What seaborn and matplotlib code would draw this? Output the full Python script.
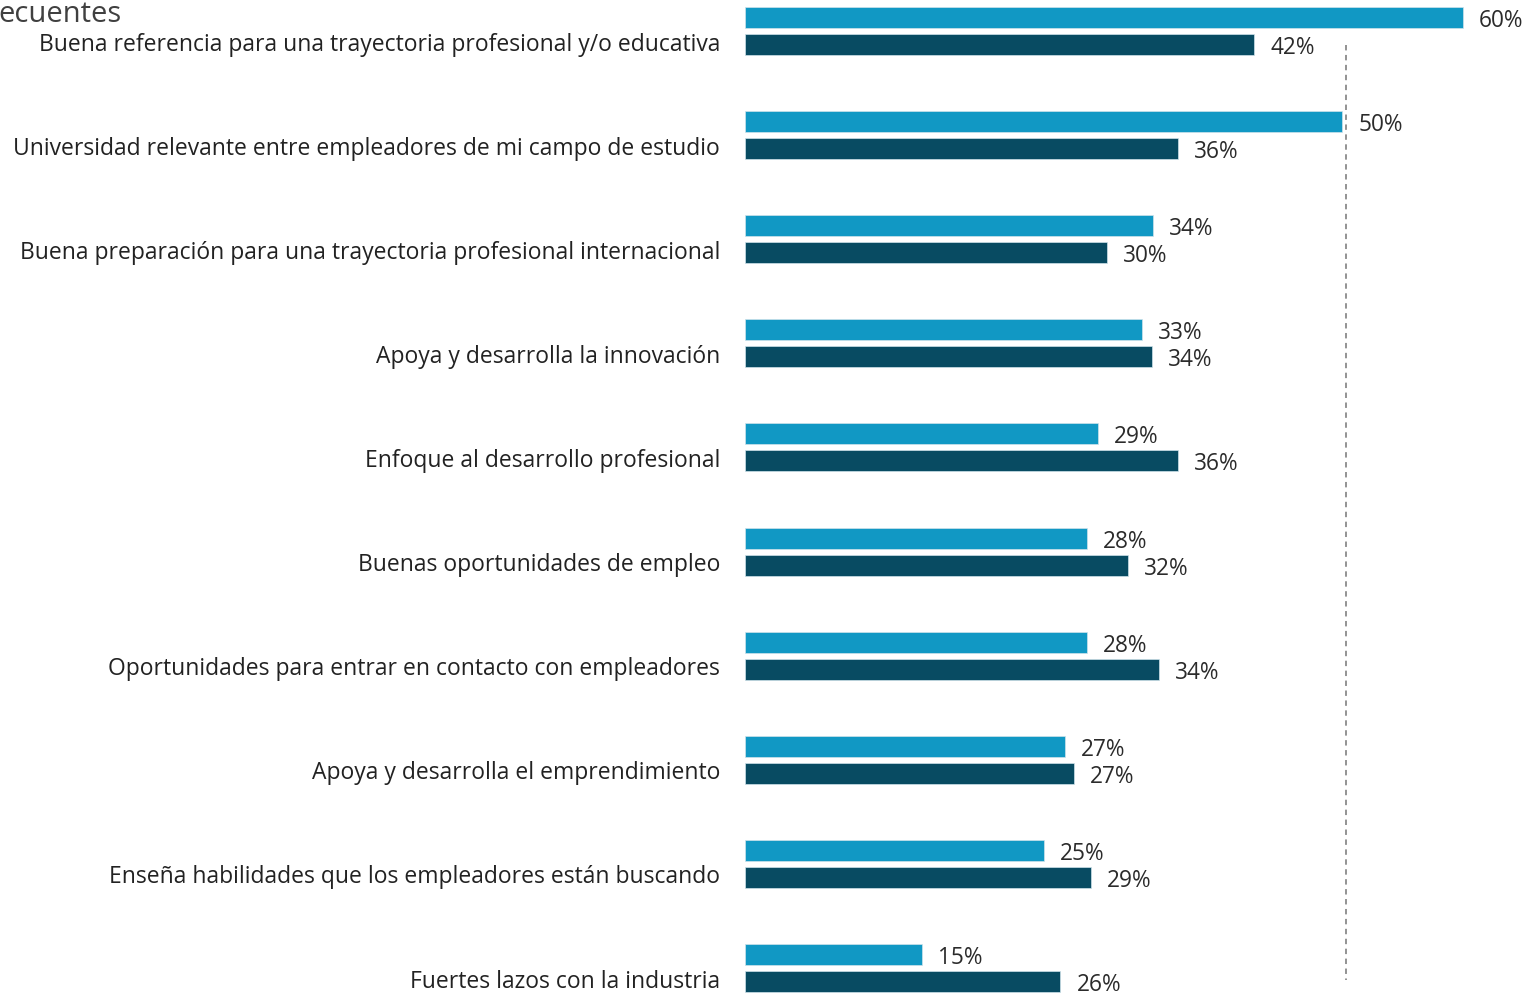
import matplotlib
matplotlib.use("Agg")
import matplotlib.pyplot as plt
import matplotlib.transforms as mtransforms
import seaborn as sns
import pandas as pd

categories = [
    "Buena referencia para una trayectoria profesional y/o educativa",
    "Universidad relevante entre empleadores de mi campo de estudio",
    "Buena preparación para una trayectoria profesional internacional",
    "Apoya y desarrolla la innovación",
    "Enfoque al desarrollo profesional",
    "Buenas oportunidades de empleo",
    "Oportunidades para entrar en contacto con empleadores",
    "Apoya y desarrolla el emprendimiento",
    "Enseña habilidades que los empleadores están buscando",
    "Fuertes lazos con la industria",
]
series_names = ["Serie A", "Serie B"]
values_a = [59.6, 49.6, 33.9, 33.0, 29.3, 28.4, 28.4, 26.6, 24.8, 14.7]
values_b = [42.3, 36.0, 30.1, 33.8, 36.0, 31.8, 34.4, 27.3, 28.7, 26.2]
reference_line = 49.9
title_text = "ecuentes"

colors = ["#1198c4", "#084b62"]

sns.set_theme(style="white")
plt.rcParams["font.family"] = ["Open Sans", "DejaVu Sans"]

df = pd.DataFrame({
    "cat": categories * 2,
    "val": values_a + values_b,
    "serie": [series_names[0]] * len(categories) + [series_names[1]] * len(categories),
})

W, H = 1529, 994
left_px = 745
px_per_unit = 12.04

fig = plt.figure(figsize=(W / 100, H / 100), dpi=100)
ax = fig.add_axes([left_px / W, 0, 1 - left_px / W, 1])

sns.barplot(data=df, y="cat", x="val", hue="serie", order=categories,
            hue_order=series_names, palette=colors, saturation=1,
            width=0.518, gap=0.222, orient="h", ax=ax, legend=False,
            edgecolor="#cfe3ea", linewidth=0.5)

ax.set_xlim(0, (W - left_px) / px_per_unit)
ax.set_ylim(9 + 26 / 104.1, -31 / 104.1)
ax.set_xlabel("")
ax.set_ylabel("")
ax.set_xticks([])
ax.set_yticks([])
for s in ax.spines.values():
    s.set_visible(False)

for cont in ax.containers:
    for bar in cont:
        w = bar.get_width()
        yc = bar.get_y() + bar.get_height() / 2
        ax.annotate(f"{int(round(w))}%", xy=(w, yc), xytext=(11.5, -2.5),
                    textcoords="offset points", ha="left", va="center",
                    fontsize=16.3, color="#2b2b2b")

# category labels, centred on the second bar
trans = mtransforms.blended_transform_factory(ax.transAxes, ax.transData)
trans = mtransforms.offset_copy(trans, fig=fig, x=-25, y=0, units="dots")
for i, c in enumerate(categories):
    ax.text(0, i + 0.13, c, transform=trans, ha="right", va="center",
            fontsize=16.5, color="#222222")

ax.plot([reference_line, reference_line], [0.1345, 9.116], color="#8a8a8a",
        linestyle=(0, (3, 2.5)), linewidth=1.3, clip_on=False)

fig.text(-2 / W, 1 - 22 / H, title_text, ha="left", va="baseline",
         fontsize=21, color="#404040")

fig.savefig("out.png", dpi=100)
